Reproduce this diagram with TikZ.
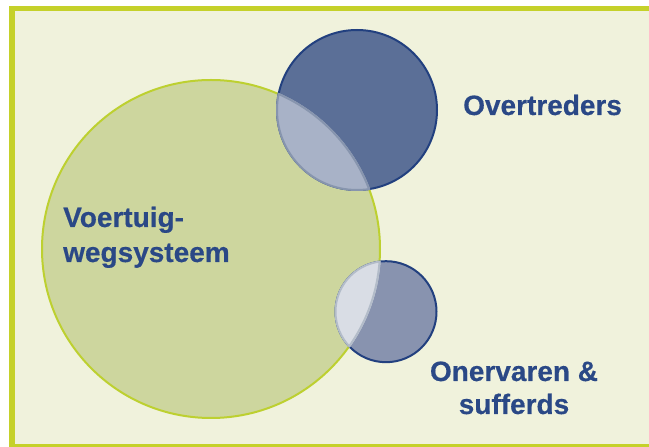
\documentclass[tikz,border=0pt]{standalone}
\usepackage{fontspec}
\setmainfont{Liberation Sans}[FakeBold=0.4]
\definecolor{bgcream}{HTML}{F0F2DC}
\definecolor{framegreen}{HTML}{C5D12A}
\definecolor{bigfill}{HTML}{CDD69E}
\definecolor{bigline}{HTML}{BDD030}
\definecolor{darkfill}{HTML}{5B6F97}
\definecolor{darkline}{HTML}{22407F}
\definecolor{lensAfill}{HTML}{A8B2C7}
\definecolor{lensAline}{HTML}{8795AE}
\definecolor{smallfill}{HTML}{8893AF}
\definecolor{lensBfill}{HTML}{D9DDE5}
\definecolor{lensBline}{HTML}{B3BCC9}
\definecolor{txtblue}{HTML}{2A4886}
\tikzset{
  lbl/.style={text=txtblue, inner sep=0pt, font=\bfseries\fontsize{28}{35}\selectfont},
}
\begin{document}
\begin{tikzpicture}[x=1pt,y=1pt]
\useasboundingbox (0,0) rectangle (649,447);
\clip (0,0) rectangle (649,447);
\fill[white] (0,0) rectangle (649,447);
\draw[framegreen, line width=5.5pt, fill=bgcream] (12,0.5) rectangle (680,438.5);
% circles
\coordinate (cbig) at (211,198);
\coordinate (cdark) at (357,337);
\coordinate (csmall) at (386,135.3);
\draw[bigline, line width=2pt, fill=bigfill] (cbig) circle[radius=169];
\draw[darkline, line width=2pt, fill=darkfill] (cdark) circle[radius=80];
\draw[darkline, line width=2pt, fill=smallfill] (csmall) circle[radius=50.5];
% lens with dark circle
\begin{scope}
  \clip (cbig) circle[radius=170];
  \fill[lensAfill] (cdark) circle[radius=80];
  \draw[lensAline, line width=2pt] (cdark) circle[radius=80];
\end{scope}
\begin{scope}
  \clip (cdark) circle[radius=80];
  \draw[lensAline, line width=2pt] (cbig) circle[radius=169];
\end{scope}
% lens with small circle
\begin{scope}
  \clip (cbig) circle[radius=170];
  \fill[lensBfill] (csmall) circle[radius=50.5];
  \draw[lensBline, line width=2pt] (csmall) circle[radius=50.5];
\end{scope}
\begin{scope}
  \clip (csmall) circle[radius=50.5];
  \draw[lensBline, line width=2pt] (cbig) circle[radius=169];
\end{scope}
% labels
\node[lbl, anchor=base west] (over) at (463,332) {Overtreders};
\node[lbl, anchor=base west] (voer) at (63,220) {Voertuig-};
\node[lbl, anchor=base west] (weg) at (63,185) {wegsysteem};
\node[lbl, anchor=base] (oner) at (514,66) {Onervaren \&};
\node[lbl, anchor=base] (suff) at (514,33) {sufferds};
\end{tikzpicture}
\end{document}
